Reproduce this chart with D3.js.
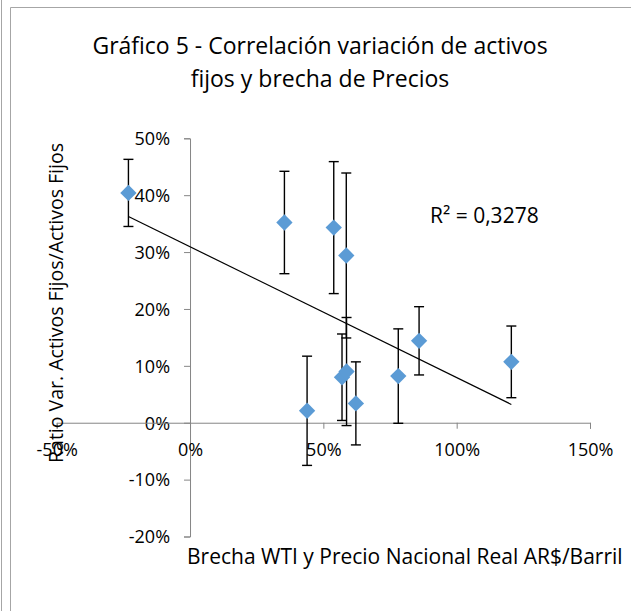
<!DOCTYPE html>
<html>
<head>
    <meta charset="utf-8">
    <script type="text/javascript" src="https://cdn.jsdelivr.net/npm/d3@7"></script>
    <style>
        body { margin: 0; background: #fff; }
        text { font-family: "Open Sans", sans-serif; fill: #000; }
    </style>
</head>

<body>
    <div id="viz"></div>
    <script type="text/javascript">

    // brecha de precios (x) y ratio var. activos fijos (y), en fracciones
    var brecha = [-0.231, 0.354, 0.539, 0.586, 0.570, 0.587, 0.622, 0.439, 0.781, 0.859, 1.205];
    var ratio  = [0.404, 0.352, 0.343, 0.294, 0.080, 0.090, 0.034, 0.021, 0.082, 0.144, 0.107];
    var error  = [0.059, 0.090, 0.116, 0.145, 0.076, 0.095, 0.073, 0.096, 0.083, 0.060, 0.063];

    var xTicks = [-0.5, 0, 0.5, 1, 1.5];
    var yTicks = [-0.2, -0.1, 0, 0.1, 0.2, 0.3, 0.4, 0.5];

    var titulo = ["Gráfico 5 - Correlación variación de activos", "fijos y brecha de Precios"];
    var tituloX = "Brecha WTI y Precio Nacional Real AR$/Barril";
    var tituloY = "Ratio Var. Activos Fijos/Activos Fijos";
    var r2Label = "R² = 0,3278";

    var width = 631, height = 611;

    var svg = d3.select("#viz")
        .append("svg")
        .attr("width", width)
        .attr("height", height);

    // marcos
    svg.append("line").attr("x1", 1.5).attr("x2", 1.5).attr("y1", 0).attr("y2", height)
        .style("stroke", "#a6a6a6");
    svg.append("path").attr("d", "M10.5," + height + "V7.5H" + width)
        .style("fill", "none").style("stroke", "#a6a6a6");

    var x = d3.scaleLinear().domain([-0.5, 1.5]).range([56.7, 590]);
    var y = d3.scaleLinear().domain([-0.2, 0.5]).range([536.5, 138.3]);

    // porcentaje con guion normal
    var pct = function(d){ return d3.format(".0%")(d).replace("\u2212", "-"); };

    // eje y
    var yAxis = svg.append("g")
        .attr("transform", "translate(" + x(0) + ",0)")
        .call(d3.axisLeft(y).tickValues(yTicks).tickFormat(pct).tickSize(6).tickPadding(14));

    // eje x en y=0
    var xAxis = svg.append("g")
        .attr("transform", "translate(0," + y(0) + ")")
        .call(d3.axisBottom(x).tickValues(xTicks).tickFormat(pct).tickSize(6).tickPadding(15));

    [yAxis, xAxis].forEach(function(g) {
        g.select(".domain").style("stroke", "#868686");
        g.selectAll(".tick line").style("stroke", "#868686");
        g.selectAll(".tick text").style("font-size", "18px").style("font-family", "Open Sans").style("fill", "#000");
    });
    yAxis.selectAll(".tick text").attr("dy", "0.35em");
    xAxis.selectAll(".tick text").attr("dy", "0.71em");

    // titulo
    svg.selectAll(".titulo")
        .data(titulo)
        .enter().append("text")
        .attr("class", "titulo")
        .attr("x", 320)
        .attr("y", function(d, i){ return 54 + i * 33; })
        .attr("text-anchor", "middle")
        .style("font-size", "23px")
        .text(function(d){ return d; });

    svg.append("text")
        .attr("x", 187)
        .attr("y", 564)
        .style("font-size", "21px")
        .text(tituloX);

    svg.append("text")
        .attr("transform", "translate(63,303) rotate(-90)")
        .attr("text-anchor", "middle")
        .style("font-size", "19.5px")
        .text(tituloY);

    // linea de tendencia (minimos cuadrados)
    var mx = d3.mean(brecha), my = d3.mean(ratio);
    var sxy = d3.sum(brecha, function(d, i){ return (d - mx) * (ratio[i] - my); });
    var sxx = d3.sum(brecha, function(d){ return (d - mx) * (d - mx); });
    var b = sxy / sxx, a = my - b * mx;
    var ext = d3.extent(brecha);

    svg.append("line")
        .attr("x1", x(ext[0])).attr("y1", y(a + b * ext[0]))
        .attr("x2", x(ext[1])).attr("y2", y(a + b * ext[1]))
        .style("stroke", "#000")
        .style("stroke-width", 1.2);

    svg.append("text")
        .attr("x", 430)
        .attr("y", 223)
        .style("font-size", "21px")
        .text(r2Label);

    var puntos = brecha.map(function(d, i){ return {x: d, y: ratio[i], e: error[i]}; });

    // barras de error
    var eb = svg.selectAll(".eb")
        .data(puntos)
        .enter().append("g")
        .attr("class", "eb")
        .style("stroke", "#000")
        .style("stroke-width", 1.4);

    eb.append("line")
        .attr("x1", function(d){ return x(d.x); })
        .attr("x2", function(d){ return x(d.x); })
        .attr("y1", function(d){ return y(d.y + d.e); })
        .attr("y2", function(d){ return y(d.y - d.e); });
    eb.append("line")
        .attr("x1", function(d){ return x(d.x) - 5; })
        .attr("x2", function(d){ return x(d.x) + 5; })
        .attr("y1", function(d){ return y(d.y + d.e); })
        .attr("y2", function(d){ return y(d.y + d.e); });
    eb.append("line")
        .attr("x1", function(d){ return x(d.x) - 5; })
        .attr("x2", function(d){ return x(d.x) + 5; })
        .attr("y1", function(d){ return y(d.y - d.e); })
        .attr("y2", function(d){ return y(d.y - d.e); });

    // puntos
    svg.selectAll(".pt")
        .data(puntos)
        .enter().append("path")
        .attr("class", "pt")
        .attr("d", d3.symbol().type(d3.symbolDiamond2).size(170))
        .attr("transform", function(d){ return "translate(" + x(d.x) + "," + y(d.y) + ")"; })
        .style("fill", "#5b9bd5");

    </script>
</body>
</html>
